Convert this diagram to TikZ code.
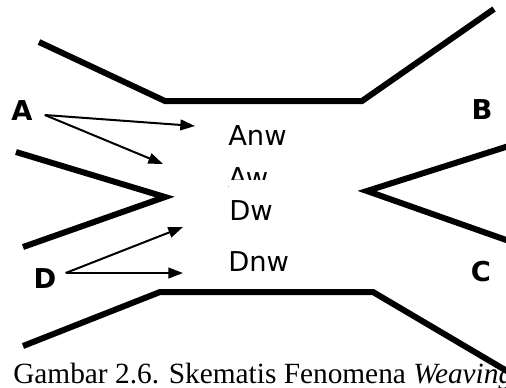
\documentclass[tikz,border=0pt]{standalone}
\usepackage{fontspec}
\setmainfont{Liberation Serif}
\newfontfamily\lblfont{DejaVu Sans}
\usetikzlibrary{arrows.meta}

\tikzset{
    wall/.style={line width=4.5pt, line join=miter},
    flow/.style={line width=1.5pt, -{Triangle[length=11pt,width=8pt]}},
    lane/.style={inner sep=0pt, anchor=base west, font=\lblfont\fontsize{20.5}{24}\selectfont},
    side/.style={inner sep=0pt, font=\lblfont\bfseries\fontsize{20.5}{24}\selectfont},
}

\begin{document}
\begin{tikzpicture}[x=0.75pt, y=-0.75pt] % weaving section, px units
    \useasboundingbox (0,0) rectangle (506,387);

    % walls of the weaving section
    \coordinate (t1) at (39,42);
    \coordinate (t2) at (165,101);
    \coordinate (t3) at (362,101);
    \coordinate (t4) at (494,9);
    \coordinate (b1) at (23,346);
    \coordinate (b2) at (160,292);
    \coordinate (b3) at (373,292);
    \coordinate (b4) at (512,374);
    \coordinate (l1) at (16,152);
    \coordinate (l2) at (165,197);
    \coordinate (l3) at (23,247);
    \coordinate (r1) at (512,145);
    \coordinate (r2) at (367,191);
    \coordinate (r3) at (512,242);

    \draw[wall] (t1) -- (t2) -- (t3) -- (t4);
    \draw[wall] (b1) -- (b2) -- (b3) -- (b4);
    \draw[wall] (l1) -- (l2) -- (l3);
    \draw[wall] (r1) -- (r2) -- (r3);

    % approach and exit legs
    \node[side] (A) at (22,111) {A};
    \node[side] (B) at (482,110) {B};
    \node[side] (C) at (481,272) {C};
    \node[side] (D) at (45,279) {D};

    % movements inside the section
    \node[lane] (anw) at (228,145) {Anw};
    \node[lane] (aw) at (228,187) {Aw};
    \node[lane, fill=white, text height=27pt, inner ysep=3pt] (dw) at (229,220) {Dw};
    \node[lane] (dnw) at (228,271) {Dnw};

    \coordinate (ea1) at (195,126);
    \coordinate (ea2) at (163,164);
    \coordinate (ed1) at (183,227);
    \coordinate (ed2) at (183,273);

    \draw[flow] ([shift={(12,4)}]A.east) -- (ea1);
    \draw[flow] ([shift={(12,4)}]A.east) -- (ea2);
    \draw[flow] ([shift={(9,-6)}]D.east) -- (ed1);
    \draw[flow] ([shift={(9,-6)}]D.east) -- (ed2);

    \node[anchor=base west, inner sep=0pt, font=\fontsize{22}{26}\selectfont] (cap) at (13,383)
        {Gambar 2.6. Skematis Fenomena \textit{Weaving}};
\end{tikzpicture}
\end{document}
